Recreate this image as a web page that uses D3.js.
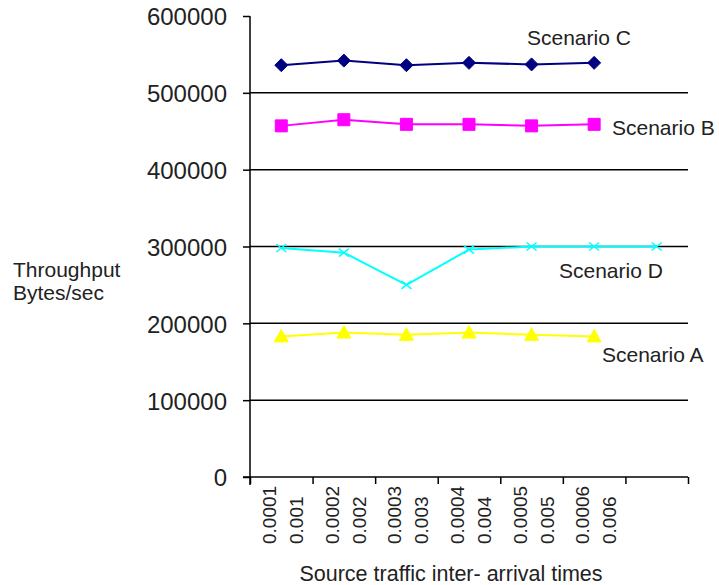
<!DOCTYPE html>
<html><head><meta charset="utf-8">
<script src="https://cdn.jsdelivr.net/npm/d3@7/dist/d3.min.js"></script>
<style>body{margin:0;background:#fff}svg{display:block}text{font-family:"Liberation Sans",Arial,sans-serif;fill:#222}</style>
</head><body>
<script>
// ---- data ----
const labelsLine1 = ["0.0001","0.0002","0.0003","0.0004","0.0005","0.0006",""];
const labelsLine2 = ["0.001","0.002","0.003","0.004","0.005","0.006",""];
const yTicks = [0,100000,200000,300000,400000,500000,600000];
const scenarioA = [183000,188000,185000,188000,185000,183000];
const scenarioB = [457000,465000,459000,459000,457000,459000];
const scenarioC = [536000,542000,536000,539000,537000,539000];
const scenarioD = [298000,292000,250000,296000,300000,300000,300000];
const seriesNames = ["Scenario A","Scenario B","Scenario C","Scenario D"];

const W=719,H=585;
const svg=d3.select("body").append("svg").attr("width",W).attr("height",H);
const idx=d3.range(labelsLine1.length);
const x=d3.scaleBand().domain(idx).range([250,688]).padding(0);
const xl=d3.scaleLinear().domain([0,idx.length]).range([250,688]);
const y=d3.scaleLinear().domain([0,600000]).range([477,16]);

// gridlines (not at top)
svg.append("g").selectAll("line").data(yTicks.filter(v=>v>0&&v<600000)).join("line")
  .attr("x1",250).attr("x2",688).attr("y1",d=>y(d)).attr("y2",d=>y(d))
  .attr("stroke","#000").attr("stroke-width",1.5);

// y axis
const ya=svg.append("g").attr("transform","translate(250,0)")
  .call(d3.axisLeft(y).tickValues(yTicks).tickSize(7).tickFormat(d3.format("d")));
ya.select(".domain").remove();
ya.selectAll(".tick line").attr("stroke","#000").attr("stroke-width",1.5);
ya.selectAll(".tick text").attr("x",-23).attr("dy","0.37em").style("font-size","24px").attr("fill","#222");
svg.append("line").attr("x1",250).attr("x2",250).attr("y1",y(600000)).attr("y2",485).attr("stroke","#000").attr("stroke-width",1.5);

// x axis
const xa=svg.append("g").attr("transform","translate(0,477)")
  .call(d3.axisBottom(xl).tickValues(d3.range(0,idx.length+1)).tickSize(7).tickFormat(""));
xa.select(".domain").remove();
xa.selectAll(".tick line").attr("stroke","#000").attr("stroke-width",1.5);
svg.append("line").attr("x1",243).attr("x2",688).attr("y1",477).attr("y2",477).attr("stroke","#000").attr("stroke-width",1.5);

const cx=i=>x(i)+x.bandwidth()/2;
const lab=svg.append("g");
idx.forEach(i=>{
  lab.append("text").attr("transform",`translate(${cx(i)-5},544) rotate(-90)`).style("font-size","19px").text(labelsLine1[i]);
  lab.append("text").attr("transform",`translate(${cx(i)+22},544) rotate(-90)`).style("font-size","19px").text(labelsLine2[i]);
});

// axis titles
svg.append("text").attr("x",451).attr("y",581).attr("text-anchor","middle").style("font-size","21.5px").text("Source traffic inter- arrival times");
svg.append("text").attr("x",13).attr("y",277).style("font-size","21px").text("Throughput");
svg.append("text").attr("x",13).attr("y",300).style("font-size","21px").text("Bytes/sec");

const line=d3.line().x((d,i)=>cx(i)).y(d=>y(d));
function drawSeries(data,color,markerPath){
  const g=svg.append("g");
  g.append("path").datum(data).attr("d",line).attr("fill","none").attr("stroke",color).attr("stroke-width",2);
  g.selectAll("path.m").data(data).join("path").attr("class","m")
    .attr("transform",(d,i)=>`translate(${cx(i)},${y(d)})`)
    .attr("d",markerPath).attr("fill",color).attr("stroke",color);
}
const diamond="M0,-6.5L6.5,0L0,6.5L-6.5,0Z";
const square="M-6,-6H6V6H-6Z";
const tri="M0,-7L7,5.5H-7Z";
drawSeries(scenarioC,"#000080",diamond);
drawSeries(scenarioB,"#ff00ff",square);
drawSeries(scenarioA,"#ffff00",tri);
// D with x markers
const gd=svg.append("g");
gd.append("path").datum(scenarioD).attr("d",line).attr("fill","none").attr("stroke","#00ffff").attr("stroke-width",2);
gd.selectAll("path.m").data(scenarioD).join("path").attr("class","m")
  .attr("transform",(d,i)=>`translate(${cx(i)},${y(d)})`)
  .attr("d","M-5,-4L5,4M-5,4L5,-4").attr("fill","none").attr("stroke","#00ffff").attr("stroke-width",1.5);

// series labels
const seriesLabelPos=[[602,362],[612,135],[527,45],[559,278]];
seriesNames.forEach((n,i)=>svg.append("text").attr("x",seriesLabelPos[i][0]).attr("y",seriesLabelPos[i][1]).style("font-size","21px").text(n));
</script>
</body></html>
